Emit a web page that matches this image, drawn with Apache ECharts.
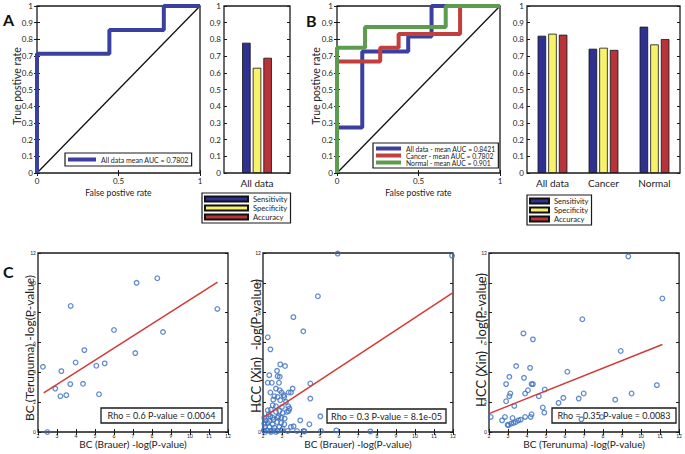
<!DOCTYPE html>
<html><head><meta charset="utf-8">
<script src="https://cdn.jsdelivr.net/npm/echarts@6/dist/echarts.min.js"></script>
<style>html,body{margin:0;padding:0;background:#fff}#c{width:685px;height:454px}</style>
</head><body><div id="c"></div>
<script>
// ---------- DATA ----------
// Panel A ROC (corner points of the step curve)
const rocA_fpr = [0, 0, 0.444, 0.444, 0.778, 0.778, 1];
const rocA_tpr = [0, 0.714, 0.714, 0.857, 0.857, 1, 1];
const rocA_name = 'All data mean AUC = 0.7802';
// Panel A bars
const barA_cats = ['All data'];
const barA_sens = [0.78];
const barA_spec = [0.63];
const barA_acc = [0.69];
// Panel B ROC
const rocB_all_fpr = [0, 0, 0.155, 0.155, 0.437, 0.437, 0.58, 0.58, 1];
const rocB_all_tpr = [0, 0.273, 0.273, 0.727, 0.727, 0.818, 0.818, 1, 1];
const rocB_can_fpr = [0, 0, 0.265, 0.265, 0.378, 0.378, 0.755, 0.755, 1];
const rocB_can_tpr = [0, 0.667, 0.667, 0.75, 0.75, 0.833, 0.833, 1, 1];
const rocB_nor_fpr = [0, 0, 0.172, 0.172, 0.667, 0.667, 1];
const rocB_nor_tpr = [0, 0.75, 0.75, 0.875, 0.875, 1, 1];
const rocB_names = ['All data - mean AUC = 0.8421', 'Cancer - mean AUC = 0.7802', 'Normal - mean AUC = 0.901'];
// Panel B bars
const barB_cats = ['All data', 'Cancer', 'Normal'];
const barB_sens = [0.822, 0.744, 0.876];
const barB_spec = [0.834, 0.750, 0.770];
const barB_acc = [0.828, 0.737, 0.802];
const barNames = ['Sensitivity', 'Specificity', 'Accuracy'];
// Chance diagonal
const diag_x = [0, 1];
const diag_y = [0, 1];
// Axis titles
const rocXTitle = 'False postive rate', rocYTitle = 'True postive rate';
const c1_xTitle = 'BC (Brauer) -log(P-value)', c1_yTitle = 'BC (Terunuma) -log(P-value)';
const c2_xTitle = 'BC (Brauer) -log(P-value)', c2_yTitle = 'HCC (Xin)  -log(P-value)';
const c3_xTitle = 'BC (Terunuma) -log(P-value)', c3_yTitle = 'HCC (Xin)  -log(P-value)';
// Panel C1: BC (Brauer) vs BC (Terunuma)
const c1_x = [2.26, 2.49, 2.91, 3.18, 3.23, 3.49, 3.72, 3.70, 3.98, 4.37, 4.44, 5.07, 5.21, 5.51, 6.00, 7.12, 7.19, 8.28, 8.58, 11.44];
const c1_y = [4.37, 0.00, 2.91, 2.40, 4.08, 2.47, 8.45, 3.21, 4.66, 3.23, 5.49, 4.44, 2.53, 4.60, 6.84, 5.29, 10.00, 10.31, 6.70, 8.25];
const c1_fit_x = [2.3, 11.45];
const c1_fit_y = [2.63, 10.04];
const c1_text = 'Rho = 0.6 P-value = 0.0064';
// Panel C2: BC (Brauer) vs HCC (Xin)
const c2_x = [2.25,2.39,4.12,2.91,3.16,2.33,2.74,2.77,2.88,2.25,2.46,2.84,4.49,2.39,2.68,2.88,2.98,2.60,2.77,3.09,3.35,3.47,3.56,2.54,2.91,3.12,4.49,2.51,2.68,3.00,3.21,3.33,2.25,2.42,2.68,2.86,3.39,2.30,2.39,2.51,2.81,3.04,3.26,3.35,2.07,2.16,2.33,2.56,2.77,2.96,3.14,5.02,3.96,2.07,2.25,2.51,2.74,2.95,3.12,2.11,2.33,2.60,2.86,3.04,3.47,3.61,4.44,2.04,2.21,2.39,2.56,2.77,2.98,3.30,3.79,4.14,5.05,2.11,2.42,2.68,5.93,11.95,4.89,3.60,5.86,7.65,4.18];
const c2_y = [6.35,5.54,6.75,4.53,4.42,3.81,4.10,3.74,3.70,3.30,3.30,3.30,3.25,2.65,2.91,2.80,2.65,2.40,2.35,2.47,2.65,2.65,2.91,2.17,2.13,2.35,2.24,1.79,1.73,1.68,2.02,1.73,1.46,1.50,1.35,1.41,1.57,1.19,1.05,0.96,1.05,1.28,1.35,1.41,0.96,0.78,0.74,0.83,0.96,0.96,0.90,1.05,0.78,0.56,0.61,0.52,0.67,0.61,0.52,0.34,0.34,0.29,0.34,0.22,0.34,0.38,0.52,0.11,0.11,0.07,0.11,0.07,0.11,0.07,0.07,0.07,0.07,0.00,0.00,0.00,11.96,11.82,9.10,7.70,0.11,0.04,0.04];
const c2_fit_x = [2, 12];
const c2_fit_y = [0.96, 9.35];
const c2_text = 'Rho = 0.3 P-value = 8.1e-05';
// Panel C3: BC (Terunuma) vs HCC (Xin)
const c3_x = [2.09,2.69,2.84,2.90,2.90,2.98,3.02,3.07,3.07,3.12,3.16,3.24,3.29,3.33,3.41,3.43,3.55,3.67,3.81,3.84,3.90,3.90,4.05,4.16,4.19,4.24,4.24,4.31,4.31,4.62,4.83,4.91,4.93,5.66,5.91,6.12,6.72,6.91,6.98,6.86,7.93,8.64,8.93,9.50,9.33,10.83,11.12];
const c3_y = [1.01,0.78,1.01,3.21,2.06,0.49,0.45,2.40,3.70,2.58,0.56,0.94,0.61,1.75,0.67,4.42,0.78,0.83,6.61,3.63,1.01,2.58,2.80,4.30,1.01,1.19,3.21,3.21,6.21,2.40,1.64,1.30,2.85,1.95,2.29,4.04,2.24,7.56,2.58,0.85,1.01,2.17,5.43,2.58,11.77,3.14,8.95];
const c3_fit_x = [2, 11.12];
const c3_fit_y = [1.23, 5.87];
const c3_text = 'Rho = 0.35 P-value = 0.0083';

// ---------- STYLE ----------
const F = "Lato,'Open Sans',sans-serif";
const TXT = '#222';
const FRAME = '#1a1a1a';
const ROC_BLUE = '#3b3f9e', ROC_RED = '#c1403d', ROC_GREEN = '#5c9c4e';
const BAR_COLORS = ['#2e3192', '#f7f26a', '#b7343a'];
const PT = '#3c6fc0', FIT = '#d23a36';

const zip = (a, b) => a.map((v, i) => [v, b[i]]);

const grids = [
  {left: 37, top: 6, width: 163, height: 167},
  {left: 224, top: 6, width: 66, height: 167},
  {left: 337, top: 6, width: 163, height: 167},
  {left: 527, top: 6, width: 153, height: 167},
  {left: 38, top: 253, width: 190, height: 179},
  {left: 263, top: 253, width: 190, height: 179},
  {left: 489, top: 253, width: 193, height: 179}
].map(g => Object.assign({show: true, borderColor: FRAME, borderWidth: 1.3, backgroundColor: '#fff'}, g));

const xAxes = [], yAxes = [];
const addX = o => (xAxes.push(o), xAxes.length - 1);
const addY = o => (yAxes.push(o), yAxes.length - 1);
const tick = (len) => ({show: true, inside: true, length: len, lineStyle: {color: FRAME, width: 1}});
const nameStyle = (s) => ({fontSize: s, color: TXT, fontFamily: F, verticalAlign: 'middle', align: 'center'});

function valueFrame(g, xr, yr, lab, names) {
  const xi = addX({type: 'value', gridIndex: g, min: xr[0], max: xr[1], interval: xr[2], position: 'bottom',
    axisLine: {show: false}, axisTick: tick(lab.tick), splitLine: {show: false},
    axisLabel: {fontSize: lab.size, color: TXT, fontFamily: F, margin: lab.xm},
    name: names.x, nameLocation: 'middle', nameGap: names.xg, nameMoveOverlap: false,
    nameTextStyle: nameStyle(names.xs)});
  addX({type: 'value', gridIndex: g, min: xr[0], max: xr[1], interval: xr[2], position: 'top',
    axisLine: {show: false}, axisTick: tick(lab.tick), axisLabel: {show: false}, splitLine: {show: false}});
  const yi = addY({type: 'value', gridIndex: g, min: yr[0], max: yr[1], interval: yr[2], position: 'left',
    axisLine: {show: false}, axisTick: tick(lab.tick), splitLine: {show: false},
    axisLabel: {fontSize: lab.size, color: TXT, fontFamily: F, margin: lab.ym}});
  addY({type: 'value', gridIndex: g, min: yr[0], max: yr[1], interval: yr[2], position: 'right',
    axisLine: {show: false}, axisTick: tick(lab.tick), axisLabel: {show: false}, splitLine: {show: false}});
  return [xi, yi];
}
function barFrame(g, cats) {
  const xi = addX({type: 'category', gridIndex: g, data: cats, position: 'bottom',
    axisLine: {show: false}, axisTick: {show: false},
    axisLabel: {fontSize: 10, color: TXT, fontFamily: F, margin: 5}});
  const yi = addY({type: 'value', gridIndex: g, min: 0, max: 1, interval: 0.1, position: 'left',
    axisLine: {show: false}, axisTick: tick(3), splitLine: {show: false},
    axisLabel: {fontSize: 8, color: TXT, fontFamily: F, margin: 3}});
  addY({type: 'value', gridIndex: g, min: 0, max: 1, interval: 0.1, position: 'right',
    axisLine: {show: false}, axisTick: tick(3), axisLabel: {show: false}, splitLine: {show: false}});
  return [xi, yi];
}

const rocLab = {size: 8, tick: 3, xm: 4, ym: 4};
const [axA_x, axA_y] = valueFrame(0, [0, 1, 0.5], [0, 1, 0.1], rocLab, {x: rocXTitle, xg: 19, xs: 8.7});
const [bA_x, bA_y] = barFrame(1, barA_cats);
const [axB_x, axB_y] = valueFrame(2, [0, 1, 0.5], [0, 1, 0.1], rocLab, {x: rocXTitle, xg: 19.5, xs: 8.7});
const [bB_x, bB_y] = barFrame(3, barB_cats);
const scLab = {size: 5, tick: 3, xm: 1.5, ym: 2};
const [c1x, c1y] = valueFrame(4, [2, 12, 1], [0, 12, 2], scLab, {x: c1_xTitle, xg: 11.5, xs: 10});
const [c2x, c2y] = valueFrame(5, [2, 12, 1], [0, 12, 2], scLab, {x: c2_xTitle, xg: 11.5, xs: 10});
const [c3x, c3y] = valueFrame(6, [2, 12, 1], [0, 12, 2], scLab, {x: c3_xTitle, xg: 11.5, xs: 10});

const series = [];
function rocLine(xi, yi, name, xs, ys, color, z) {
  series.push({type: 'line', name, xAxisIndex: xi, yAxisIndex: yi, data: zip(xs, ys),
    showSymbol: false, symbol: 'none', lineStyle: {color, width: 4}, itemStyle: {color}, z, animation: false});
}
function diagLine(xi, yi) {
  series.push({type: 'line', xAxisIndex: xi, yAxisIndex: yi, data: zip(diag_x, diag_y), symbol: 'none',
    lineStyle: {color: '#111', width: 1.3}, z: 1, silent: true});
}
diagLine(axA_x, axA_y);
rocLine(axA_x, axA_y, rocA_name, rocA_fpr, rocA_tpr, ROC_BLUE, 3);
diagLine(axB_x, axB_y);
rocLine(axB_x, axB_y, rocB_names[0], rocB_all_fpr, rocB_all_tpr, ROC_BLUE, 3);
rocLine(axB_x, axB_y, rocB_names[1], rocB_can_fpr, rocB_can_tpr, ROC_RED, 4);
rocLine(axB_x, axB_y, rocB_names[2], rocB_nor_fpr, rocB_nor_tpr, ROC_GREEN, 5);

function bars(xi, yi, vals) {
  vals.forEach((v, i) => series.push({type: 'bar', name: barNames[i], xAxisIndex: xi, yAxisIndex: yi, data: v,
    barWidth: 8.5, barGap: '25%', itemStyle: {color: BAR_COLORS[i], borderColor: '#111', borderWidth: 0.8}}));
}
bars(bA_x, bA_y, [barA_sens, barA_spec, barA_acc]);
bars(bB_x, bB_y, [barB_sens, barB_spec, barB_acc]);

function scatterPanel(xi, yi, xs, ys, fx, fy) {
  series.push({type: 'scatter', xAxisIndex: xi, yAxisIndex: yi, data: zip(xs, ys), symbol: 'circle', symbolSize: 4.6,
    itemStyle: {color: 'rgba(255,255,255,0)', borderColor: PT, borderWidth: 1.3}, z: 3});
  series.push({type: 'line', xAxisIndex: xi, yAxisIndex: yi, data: zip(fx, fy), symbol: 'none',
    lineStyle: {color: FIT, width: 1.5}, z: 4});
}
scatterPanel(c1x, c1y, c1_x, c1_y, c1_fit_x, c1_fit_y);
scatterPanel(c2x, c2y, c2_x, c2_y, c2_fit_x, c2_fit_y);
scatterPanel(c3x, c3y, c3_x, c3_y, c3_fit_x, c3_fit_y);

const legBase = {orient: 'vertical', icon: 'rect', borderColor: FRAME, borderWidth: 1.2, backgroundColor: '#fff',
  selectedMode: false, itemGap: 1};
const legends = [
  Object.assign({}, legBase, {data: [rocA_name], left: 65, top: 153, itemWidth: 28, itemHeight: 4,
    padding: [3, 3, 3, 3], textStyle: {fontFamily: F, color: TXT, fontSize: 7}}),
  Object.assign({}, legBase, {data: rocB_names, left: 373, top: 143, itemWidth: 25, itemHeight: 4, itemGap: 0,
    padding: [2, 3, 2, 3], textStyle: {fontFamily: F, color: TXT, fontSize: 6.8}}),
  Object.assign({}, legBase, {data: barNames, left: 202, top: 193, itemWidth: 43, itemHeight: 5,
    padding: [2, 3, 2, 2], textStyle: {fontFamily: F, color: TXT, fontSize: 7.6}}),
  Object.assign({}, legBase, {data: barNames, left: 527, top: 195, itemWidth: 19, itemHeight: 5,
    padding: [2, 3, 2, 2], textStyle: {fontFamily: F, color: TXT, fontSize: 7.6}})
];

function rhoBox(x, y, w, h, text) {
  return {type: 'group', z: 1, children: [
    {type: 'rect', shape: {x, y, width: w, height: h}, style: {fill: '#fff', stroke: FRAME, lineWidth: 1.3}, z: 1},
    {type: 'text', x: x + w / 2, y: y + h / 2, z: 2, style: {text, fill: TXT, font: '9px ' + F, textAlign: 'center', textVerticalAlign: 'middle'}}
  ]};
}
function letter(x, y, t) {
  return {type: 'text', x, y, style: {text: t, fill: '#111', font: 'bold 16px ' + F, textVerticalAlign: 'top'}};
}
function yTitle(x, y, text, size) {
  return {type: 'text', x, y, rotation: Math.PI / 2,
    style: {text, fill: TXT, font: size + 'px ' + F, textAlign: 'center', textVerticalAlign: 'middle'}};
}

const chart = echarts.init(document.getElementById('c'), null, {renderer: 'svg'});
chart.setOption({
  animation: false,
  backgroundColor: '#fff',
  grid: grids,
  xAxis: xAxes,
  yAxis: yAxes,
  legend: legends,
  series,
  graphic: [
    yTitle(17, 86, rocYTitle, 10.5),
    yTitle(315.5, 86, rocYTitle, 10.5),
    yTitle(29, 348, c1_yTitle, 12),
    yTitle(256, 346, c2_yTitle, 13),
    yTitle(481, 340, c3_yTitle, 13),
    rhoBox(101, 408, 121, 15, c1_text),
    rhoBox(327, 409, 119, 14, c2_text),
    rhoBox(552, 408, 124, 15, c3_text),
    letter(3, 11, 'A'), letter(306, 12, 'B'), letter(3, 263, 'C')
  ]
});
</script></body></html>
